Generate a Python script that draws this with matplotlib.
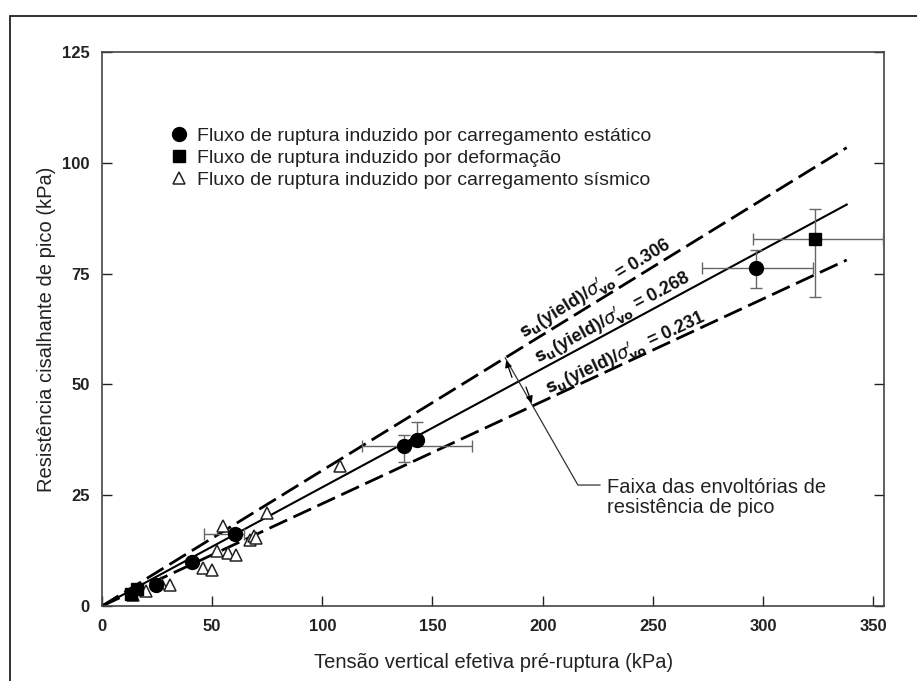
import numpy as np
import matplotlib
matplotlib.use("Agg")
import matplotlib.pyplot as plt
from matplotlib.patches import Rectangle

plt.rcParams['font.family'] = ['Liberation Sans', 'DejaVu Sans']

# static load induced flow failures
static_x = [24.5, 41, 60.5, 137, 143, 297]
static_y = [4.8, 9.9, 16.3, 36, 37.5, 76.3]
static_xerr_lo = [0, 0, 14, 19, 0, 24.5]
static_xerr_hi = [0, 0, 4, 31, 0, 25.7]
static_yerr_lo = [0, 0, 0, 3.5, 0, 4.6]
static_yerr_hi = [0, 0, 0, 2.7, 4, 4.0]

# deformation induced flow failures
deform_x = [13, 16, 323.6]
deform_y = [2.8, 3.8, 82.8]
deform_xerr_lo = [0, 0, 28]
deform_xerr_hi = [0, 0, 31]
deform_yerr_lo = [0, 0, 13]
deform_yerr_hi = [0, 0, 6.8]

# seismic load induced flow failures
seis_x = [14, 20, 27, 31, 46, 50, 52, 55, 57, 61, 67, 69, 70, 75, 108]
seis_y = [2.4, 3.5, 5.2, 4.7, 8.6, 8.1, 12.5, 18, 12, 11.6, 15, 15.8, 15.3, 21, 31.5]

ratios = [0.306, 0.268, 0.231]
ratio_labels = ['0.306', '0.268', '0.231']
line_end = 338

fig = plt.figure(figsize=(9.17, 6.81), dpi=100)
ax = fig.add_axes([0.1112, 0.1101, 0.853, 0.8135])

# outer frame of the picture
fig.patches.append(Rectangle((10 / 917, -0.1), 1.0, 1.1 - 16 / 681, fill=False,
                             lw=1.3, ec='#222', transform=fig.transFigure))

xs = np.array([0, line_end])
for r in ratios:
    if r == 0.268:
        ax.plot(xs, r * xs, color='black', lw=1.5, zorder=2)
    else:
        ax.plot(xs, r * xs, color='black', lw=2, dashes=(7, 2.5), zorder=2)

# line labels
offsets = [3.0, 2.8, 2.0]
centers = [224, 232, 238]
for r, lab, c, off in zip(ratios, ratio_labels, centers, offsets):
    ang = np.degrees(np.arctan(r))
    ax.text(c, r * c + off, r"$\mathbf{s_u}$(yield)/$\sigma^{\prime}_{\mathbf{vo}}$ = " + lab,
            rotation=ang, transform_rotates_text=True, rotation_mode='anchor',
            ha='center', va='center', fontsize=13, fontweight='bold', color='#111')

# error bars
ax.errorbar(static_x, static_y, xerr=[static_xerr_lo, static_xerr_hi],
            yerr=[static_yerr_lo, static_yerr_hi], fmt='none', ecolor='#666',
            elinewidth=1, capsize=4, zorder=3)
ax.errorbar(deform_x, deform_y, xerr=[deform_xerr_lo, deform_xerr_hi],
            yerr=[deform_yerr_lo, deform_yerr_hi], fmt='none', ecolor='#666',
            elinewidth=1, capsize=4, zorder=3)

ax.plot(seis_x, seis_y, '^', ms=9, mfc='white', mec='#222', mew=1.1, ls='none',
        zorder=4, label='Fluxo de ruptura induzido por carregamento sísmico')
ax.plot(static_x, static_y, 'o', ms=10, color='black', ls='none', zorder=5,
        label='Fluxo de ruptura induzido por carregamento estático')
ax.plot(deform_x, deform_y, 's', ms=9, color='black', ls='none', zorder=5,
        label='Fluxo de ruptura induzido por deformação')

# band annotation
ax.plot([183, 216, 226], [56, 27.3, 27.3], color='#333', lw=0.9, zorder=2)
ax.annotate('', xy=(183, 56), xytext=(186.5, 51),
            arrowprops=dict(arrowstyle='-|>', color='black', lw=0.9, mutation_scale=10))
ax.annotate('', xy=(195.5, 45.2), xytext=(192, 50),
            arrowprops=dict(arrowstyle='-|>', color='black', lw=0.9, mutation_scale=10))
ax.text(229, 28.9, 'Faixa das envoltórias de\nresistência de pico', ha='left', va='top',
        fontsize=14.5, color='#222', linespacing=1.1)

h, l = ax.get_legend_handles_labels()
order = [1, 2, 0]
ax.legend([h[i] for i in order], [l[i] for i in order], loc='upper left',
          bbox_to_anchor=(0.074, 0.882), frameon=False, fontsize=14,
          handletextpad=0.4, handlelength=1.0, labelspacing=0.22, borderpad=0,
          labelcolor='#222')

ax.set_xlim(0, 355)
ax.set_ylim(0, 125)
ax.set_xticks(range(0, 351, 50))
ax.set_yticks(range(0, 126, 25))
ax.tick_params(direction='in', length=7, width=1, right=True, top=False,
               labelsize=12, colors='#222', pad=9)
for t in ax.get_xticklabels() + ax.get_yticklabels():
    t.set_fontweight('bold')
for s in ax.spines.values():
    s.set_color('#444')
    s.set_linewidth(1.2)

ax.set_xlabel('Tensão vertical efetiva pré-ruptura (kPa)', fontsize=14.5, color='#222', labelpad=14)
ax.set_ylabel('Resistência cisalhante de pico (kPa)', fontsize=14.5, color='#222', labelpad=4)

fig.savefig('out.png', dpi=100)
